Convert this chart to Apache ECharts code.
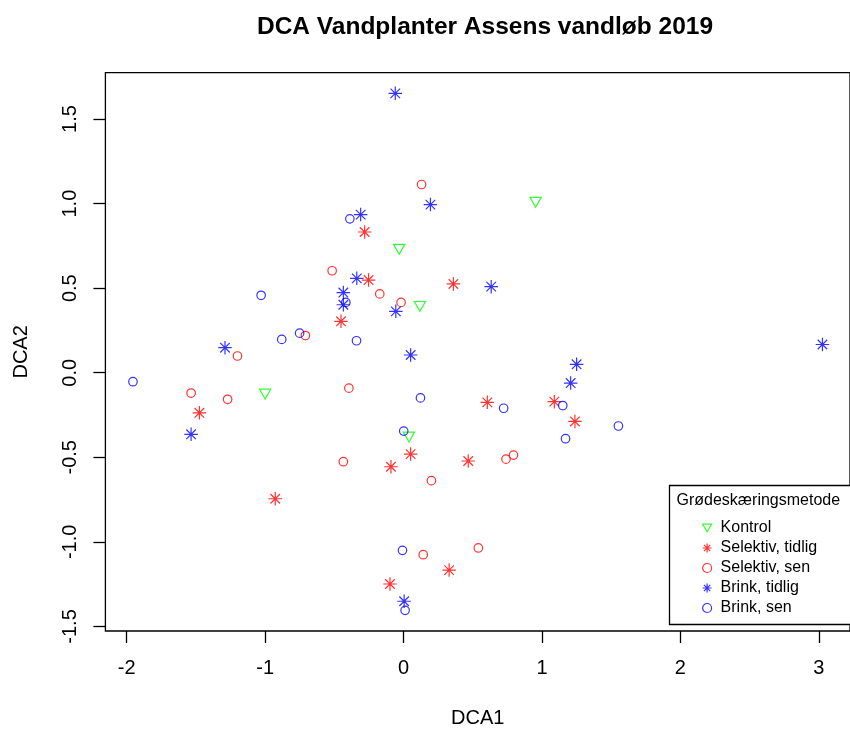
<!DOCTYPE html>
<html>
<head>
<meta charset="utf-8">
<script src="https://cdn.jsdelivr.net/npm/echarts@6.0.0/dist/echarts.min.js"></script>
<style>
  html, body { margin: 0; padding: 0; background: #fff; }
  #dca { width: 850px; height: 733px; }
</style>
</head>
<body>
<div id="dca"></div>
<script>
// DCA scores [DCA1, DCA2] per grødeskæringsmetode
var kontrol = [[0.954, 1.008], [-0.032, 0.730], [0.118, 0.392], [-1.00, -0.126], [0.039, -0.38]];
var selektivTidlig = [
    [-0.281, 0.832], [-0.253, 0.548], [0.360, 0.525], [-0.452, 0.304], [-1.475, -0.237],
    [-0.927, -0.745], [-0.091, -0.556], [0.051, -0.481], [0.467, -0.522], [0.605, -0.175],
    [1.089, -0.171], [1.238, -0.288], [-0.098, -1.249], [0.329, -1.167]
];
var selektivSen = [
    [0.130, 1.113], [-0.516, 0.603], [-0.172, 0.466], [-0.018, 0.416], [-0.709, 0.220],
    [-1.200, 0.099], [-1.535, -0.120], [-1.271, -0.157], [-0.395, -0.091], [-0.435, -0.526],
    [0.201, -0.638], [0.740, -0.511], [0.794, -0.487], [0.142, -1.076], [0.540, -1.036]
];
var brinkTidlig = [
    [-0.060, 1.652], [0.194, 0.994], [-0.310, 0.935], [-0.338, 0.558], [-0.435, 0.474],
    [-0.435, 0.402], [-0.056, 0.363], [-1.290, 0.148], [0.051, 0.105], [0.633, 0.509],
    [3.026, 0.167], [1.250, 0.050], [1.207, -0.061], [-1.535, -0.364], [0.004, -1.351]
];
var brinkSen = [
    [-0.388, 0.910], [-1.029, 0.458], [-0.417, 0.416], [-0.751, 0.234], [-0.880, 0.197],
    [-0.340, 0.189], [-1.955, -0.053], [0.122, -0.149], [0.001, -0.345], [0.723, -0.210],
    [1.150, -0.194], [1.170, -0.390], [1.552, -0.315], [-0.008, -1.050], [0.011, -1.405]
];

var xTicks = [-2, -1, 0, 1, 2, 3];
var yTicks = [-1.5, -1, -0.5, 0, 0.5, 1, 1.5];

var FONT = '"Liberation Sans", Arial, sans-serif';
var triangle = 'path://M-1.347,-0.778L1.347,-0.778L0,1.555Z';
var asterisk = 'path://M-1,0L1,0M0,-1L0,1M-0.7071,-0.7071L0.7071,0.7071M-0.7071,0.7071L0.7071,-0.7071';

function pts(name, data, symbol, size, col) {
    return {
        name: name,
        type: 'scatter',
        data: data,
        symbol: symbol,
        symbolSize: size,
        itemStyle: { color: 'rgba(0,0,0,0)', borderColor: col, borderWidth: 1.2 },
        emphasis: { disabled: true },
        silent: true
    };
}

var myChart = echarts.init(document.getElementById('dca'));
var option = {
    animation: false,
    backgroundColor: '#fff',
    title: {
        text: 'DCA Vandplanter Assens vandløb 2019',
        left: 480,
        textAlign: 'center',
        top: 10,
        textStyle: { fontFamily: FONT, fontSize: 24.5, fontWeight: 'bold', color: '#000' }
    },
    grid: {
        show: true,
        left: 105.4,
        top: 72.7,
        width: 755.2,
        height: 563.3,
        borderColor: '#000',
        borderWidth: 1.3,
        backgroundColor: 'rgba(0,0,0,0)'
    },
    xAxis: {
        type: 'value',
        min: -2.154,
        max: 3.225,
        name: 'DCA1',
        nameLocation: 'middle',
        nameGap: 77,
        nameTextStyle: { fontFamily: FONT, fontSize: 20, color: '#000' },
        axisLine: { show: false, onZero: false },
        splitLine: { show: false },
        axisTick: { show: true, length: 12, customValues: xTicks, lineStyle: { color: '#000', width: 1.3 } },
        axisLabel: { customValues: xTicks, margin: 27, fontFamily: FONT, fontSize: 20, color: '#000' }
    },
    yAxis: {
        type: 'value',
        min: -1.527,
        max: 1.774,
        name: 'DCA2',
        nameLocation: 'middle',
        nameGap: 74,
        nameTextStyle: { fontFamily: FONT, fontSize: 20, color: '#000' },
        axisLine: { show: false, onZero: false },
        splitLine: { show: false },
        axisTick: { show: true, length: 12, customValues: yTicks, lineStyle: { color: '#000', width: 1.3 } },
        axisLabel: {
            customValues: yTicks,
            rotate: 90,
            margin: 25,
            fontFamily: FONT, fontSize: 20, color: '#000',
            formatter: function (v) { return v.toFixed(1); }
        }
    },
    legend: {
        orient: 'vertical',
        left: 702,
        top: 518,
        padding: 0,
        itemWidth: 9,
        itemHeight: 9,
        itemGap: 0,
        symbolKeepAspect: true,
        selectedMode: false,
        itemStyle: { borderWidth: 1.2 },
        textStyle: { fontFamily: FONT, fontSize: 16, color: '#000', lineHeight: 20, padding: [0, 0, 0, 4] },
        data: ['Kontrol', 'Selektiv, tidlig', 'Selektiv, sen', 'Brink, tidlig', 'Brink, sen']
    },
    graphic: [
        {
            type: 'rect',
            z: 1,
            shape: { x: 669.5, y: 485.5, width: 200, height: 139 },
            style: { fill: '#fff', stroke: '#000', lineWidth: 1.3 }
        },
        {
            type: 'text',
            z: 2,
            x: 676.5,
            y: 501,
            style: { text: 'Grødeskæringsmetode', font: '16px ' + FONT, fill: '#000', verticalAlign: 'middle' }
        }
    ],
    series: [
        pts('Kontrol', kontrol, triangle, [11.3, 9.8], '#00ff00'),
        pts('Selektiv, tidlig', selektivTidlig, asterisk, 13.5, '#ff0000'),
        pts('Selektiv, sen', selektivSen, 'circle', 8.5, '#ff0000'),
        pts('Brink, tidlig', brinkTidlig, asterisk, 13.5, '#0000ff'),
        pts('Brink, sen', brinkSen, 'circle', 8.5, '#0000ff')
    ]
};
myChart.setOption(option);
</script>
</body>
</html>
